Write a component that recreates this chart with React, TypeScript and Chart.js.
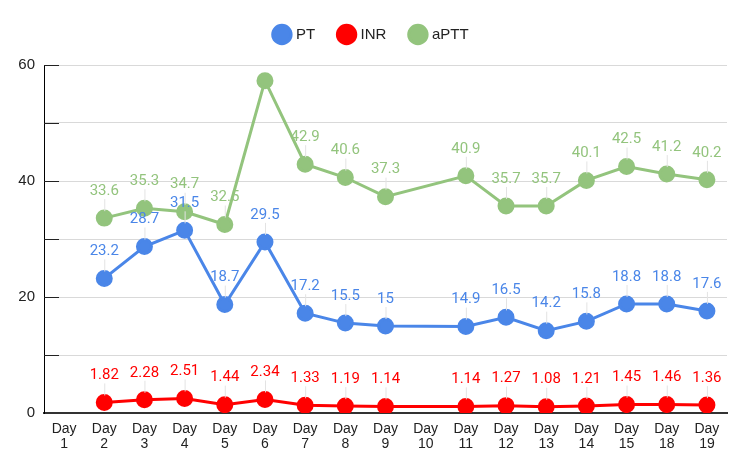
import React, { useEffect, useRef } from "react";
import { Chart, registerables } from "chart.js";

Chart.register(...registerables);

const categories: string[][] = [
  ["Day", "1"], ["Day", "2"], ["Day", "3"], ["Day", "4"], ["Day", "5"], ["Day", "6"],
  ["Day", "7"], ["Day", "8"], ["Day", "9"], ["Day", "10"], ["Day", "11"], ["Day", "12"],
  ["Day", "13"], ["Day", "14"], ["Day", "15"], ["Day", "18"], ["Day", "19"],
];

const ptValues: (number | null)[] = [null, 23.2, 28.7, 31.5, 18.7, 29.5, 17.2, 15.5, 15, null, 14.9, 16.5, 14.2, 15.8, 18.8, 18.8, 17.6];
const inrValues: (number | null)[] = [null, 1.82, 2.28, 2.51, 1.44, 2.34, 1.33, 1.19, 1.14, null, 1.14, 1.27, 1.08, 1.21, 1.45, 1.46, 1.36];
const apttValues: (number | null)[] = [null, 33.6, 35.3, 34.7, 32.5, 57.3, 42.9, 40.6, 37.3, null, 40.9, 35.7, 35.7, 40.1, 42.5, 41.2, 40.2];
// aPTT value at Day 6 has no visible label in the reference
const apttUnlabeled: number[] = [5];

const yTicks: number[] = [0, 20, 40, 60];

const BLUE = "#4a86e8";
const RED = "#ff0000";
const GREEN = "#93c47d";

const dataLabelPlugin = {
  id: "dataLabels",
  afterDatasetsDraw(chart: any) {
    const ctx = chart.ctx;
    ctx.save();
    chart.data.datasets.forEach((ds: any, di: number) => {
      const meta = chart.getDatasetMeta(di);
      meta.data.forEach((pt: any, i: number) => {
        const v = ds.data[i];
        if (v === null || v === undefined) return;
        if (ds.unlabeled && ds.unlabeled.includes(i)) return;
        const x = pt.x;
        const y = pt.y;
        ctx.strokeStyle = "#e3e3e3";
        ctx.lineWidth = 1;
        ctx.beginPath();
        ctx.moveTo(x + 0.5, y - 7);
        ctx.lineTo(x + 0.5, y - 19);
        ctx.stroke();
        ctx.fillStyle = ds.borderColor;
        ctx.font = "15px Roboto";
        ctx.textAlign = "center";
        ctx.textBaseline = "middle";
        ctx.fillText(String(v), x, y - 27);
      });
    });
    ctx.restore();
  },
};

const yTickMarksPlugin = {
  id: "yTickMarks",
  afterDraw(chart: any) {
    const ctx = chart.ctx;
    const y = chart.scales.y;
    const left = chart.chartArea.left;
    ctx.save();
    ctx.strokeStyle = "#222";
    ctx.lineWidth = 1;
    for (let v = 10; v <= 60; v += 10) {
      const py = Math.round(y.getPixelForValue(v)) + 0.5;
      ctx.beginPath();
      ctx.moveTo(left, py);
      ctx.lineTo(left + 15, py);
      ctx.stroke();
    }
    ctx.restore();
  },
};

// extra space below the legend, and centre it on the full canvas width
const legendLayoutPlugin = {
  id: "legendLayout",
  afterInit(chart: any) {
    const lg = chart.legend;
    if (!lg) return;
    const orig = lg.fit.bind(lg);
    lg.fit = function () {
      orig();
      this.height += 13;
    };
  },
  afterLayout(chart: any) {
    const lg = chart.legend;
    if (!lg) return;
    lg.right += 17;
  },
};

export default function App() {
  const ref = useRef<HTMLCanvasElement>(null);
  useEffect(() => {
    if (!ref.current) return;
    const mk = (label: string, data: (number | null)[], color: string, extra: any = {}) => ({
      label,
      data,
      borderColor: color,
      backgroundColor: color,
      pointBackgroundColor: color,
      pointBorderColor: color,
      pointRadius: 7,
      pointHoverRadius: 7,
      borderWidth: 3,
      spanGaps: true,
      tension: 0,
      ...extra,
    });
    const chart = new Chart(ref.current, {
      type: "line",
      data: {
        labels: categories,
        datasets: [
          mk("PT", ptValues, BLUE),
          mk("INR", inrValues, RED),
          mk("aPTT", apttValues, GREEN, { unlabeled: apttUnlabeled }),
        ] as any,
      },
      options: {
        responsive: false,
        animation: false,
        layout: { padding: { top: 2, right: 23, bottom: 0, left: 0 } },
        plugins: {
          legend: {
            position: "top",
            labels: {
              usePointStyle: true,
              pointStyle: "circle",
              boxWidth: 13,
              boxHeight: 13,
              padding: 25,
              color: "#222",
              font: { family: "'Liberation Sans', Arial, sans-serif", size: 15 },
            },
          },
          tooltip: { enabled: false },
        },
        scales: {
          x: {
            offset: true,
            grid: { display: false, drawTicks: false },
            border: { color: "#333", width: 2 },
            ticks: {
              color: "#222",
              padding: 8,
              maxRotation: 0,
              autoSkip: false,
              font: { family: "'Liberation Sans', Arial, sans-serif", size: 14, lineHeight: 1.1 },
            },
            afterFit: (s: any) => { s.height = 61; },
          },
          y: {
            min: 0,
            max: 60,
            afterBuildTicks: (s: any) => {
              const t: any[] = [];
              for (let v = 0; v <= 60; v += 10) t.push({ value: v });
              s.ticks = t;
            },
            grid: { color: "#d9d9d9", drawTicks: false },
            border: { color: "#000", width: 1 },
            ticks: {
              padding: 9,
              color: "#222",
              font: { family: "'Liberation Sans', Arial, sans-serif", size: 15 },
              callback: (v: any) => (yTicks.includes(Number(v)) ? String(v) : ""),
            },
            afterFit: (s: any) => { s.width = 44; },
          },
        },
      },
      plugins: [dataLabelPlugin, yTickMarksPlugin, legendLayoutPlugin],
    });
    return () => chart.destroy();
  }, []);
  return (
    <div style={{ position: "absolute", left: 0, top: 0, width: 750, height: 474, background: "#fff" }}>
      <canvas ref={ref} width={750} height={474} />
    </div>
  );
}
